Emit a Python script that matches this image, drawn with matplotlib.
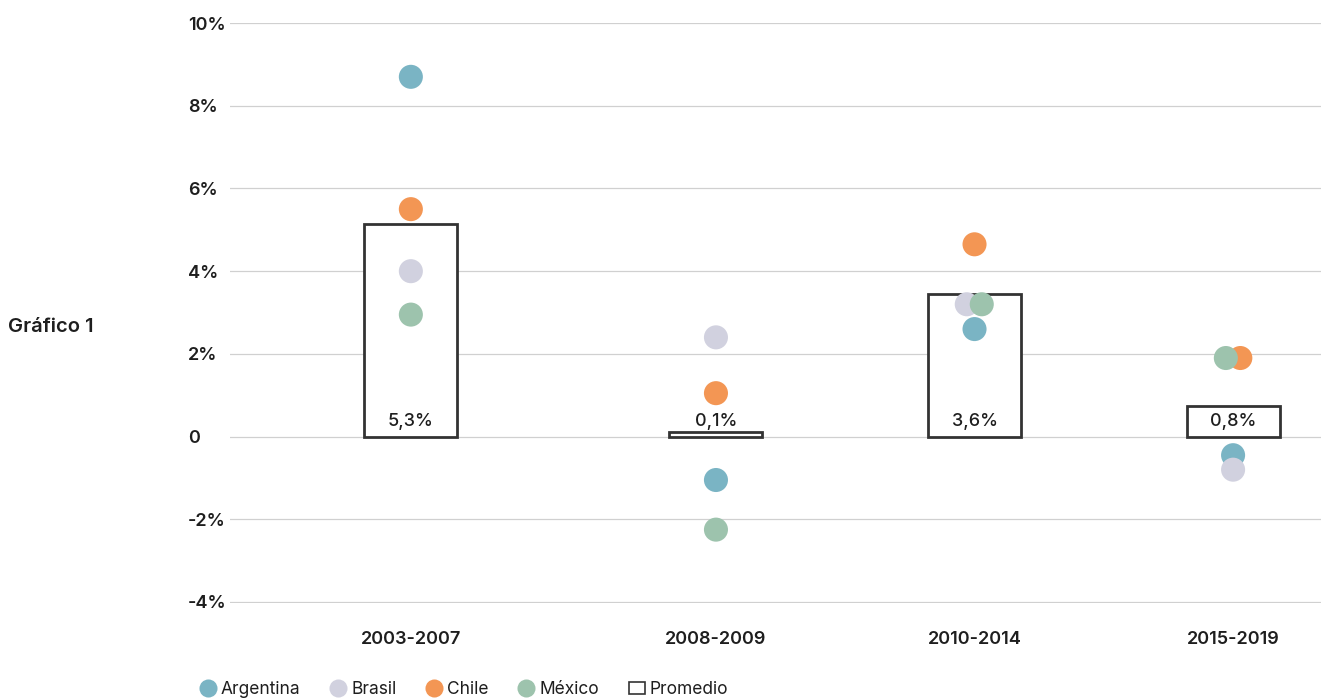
#!/usr/bin/env python3
"""Gráfico 1: crecimiento por país y promedio por período."""

import matplotlib
matplotlib.use('Agg')
import matplotlib.pyplot as plt
from matplotlib.lines import Line2D
from matplotlib.patches import Patch

# Data
periods = ['2003-2007', '2008-2009', '2010-2014', '2015-2019']
countries = ['Argentina', 'Brasil', 'Chile', 'México']
growth = {
    'Argentina': [8.7, -1.05, 2.6, -0.45],
    'Brasil': [4.0, 2.4, 3.2, -0.8],
    'Chile': [5.5, 1.05, 4.65, 1.9],
    'México': [2.95, -2.25, 3.2, 1.9],
}
avg_bar = [5.15, 0.1, 3.45, 0.75]
avg_labels = ['5,3%', '0,1%', '3,6%', '0,8%']
y_ticks = [-4, -2, 0, 2, 4, 6, 8, 10]
y_ticklabels = ['-4%', '-2%', '0', '2%', '4%', '6%', '8%', '10%']

# Style
colors = {
    'Argentina': '#7ab4c4',
    'Brasil': '#d1d1df',
    'Chile': '#f39654',
    'México': '#9dc3ad',
}
x_pos = [0, 1.18, 2.18, 3.18]
# small horizontal nudges where two dots overlap
nudge = {
    'Argentina': [0, 0, 0, 0],
    'Brasil': [0, 0, -0.03, 0],
    'Chile': [0, 0, 0, 0.028],
    'México': [0, 0, 0.028, -0.028],
}
plt.rcParams['font.family'] = ['Inter', 'DejaVu Sans']
text_color = '#1e1e1e'
semi = 600

fig = plt.figure(figsize=(13.21, 6.99), dpi=100)
ax = fig.add_axes([0.174, 0.137, 0.826, 0.830])

ax.bar(x_pos, avg_bar, width=0.36, color='white', edgecolor='#333333',
       linewidth=2, zorder=2)
for x, lab in zip(x_pos, avg_labels):
    ax.text(x, 0.36, lab, ha='center', va='center', fontsize=13,
            fontweight=500, color=text_color, zorder=4)

for c in countries:
    xs = [x + d for x, d in zip(x_pos, nudge[c])]
    ax.scatter(xs, growth[c], s=300, color=colors[c], edgecolors='none',
               zorder=3)

ax.set_xlim(-0.70, 3.52)
ax.set_ylim(-4.03, 10)
ax.set_yticks(y_ticks)
ax.set_yticklabels(y_ticklabels)
ax.set_xticks(x_pos)
ax.set_xticklabels(periods)
ax.grid(axis='y', color='#d0d0d0', linewidth=0.9, zorder=0)
ax.set_axisbelow(True)
for s in ax.spines.values():
    s.set_visible(False)
ax.tick_params(axis='y', length=0, pad=30, labelsize=13, labelcolor=text_color)
ax.tick_params(axis='x', length=0, pad=20, labelsize=13, labelcolor=text_color)
for t in ax.get_yticklabels():
    t.set_horizontalalignment('left')
    t.set_fontweight(semi)
for t in ax.get_xticklabels():
    t.set_fontweight(semi)

fig.text(8 / 1321, 1 - 327 / 699, 'Gráfico 1', ha='left', va='center',
         fontsize=14.5, fontweight=semi, color=text_color)

handles = [Line2D([], [], marker='o', linestyle='none', markersize=13,
                  markerfacecolor=colors[c], markeredgecolor='none', label=c)
           for c in countries]
handles.append(Patch(facecolor='white', edgecolor='#333333', linewidth=1.2,
                     label='Promedio'))
fig.legend(handles=handles, loc='center left', bbox_to_anchor=(0.145, 0.013),
           ncol=5, frameon=False, fontsize=12.5, handlelength=0.9,
           handletextpad=0.3, columnspacing=1.72, borderpad=0,
           labelcolor=text_color)

plt.savefig('out.png', dpi=100, facecolor='white')
plt.close()
